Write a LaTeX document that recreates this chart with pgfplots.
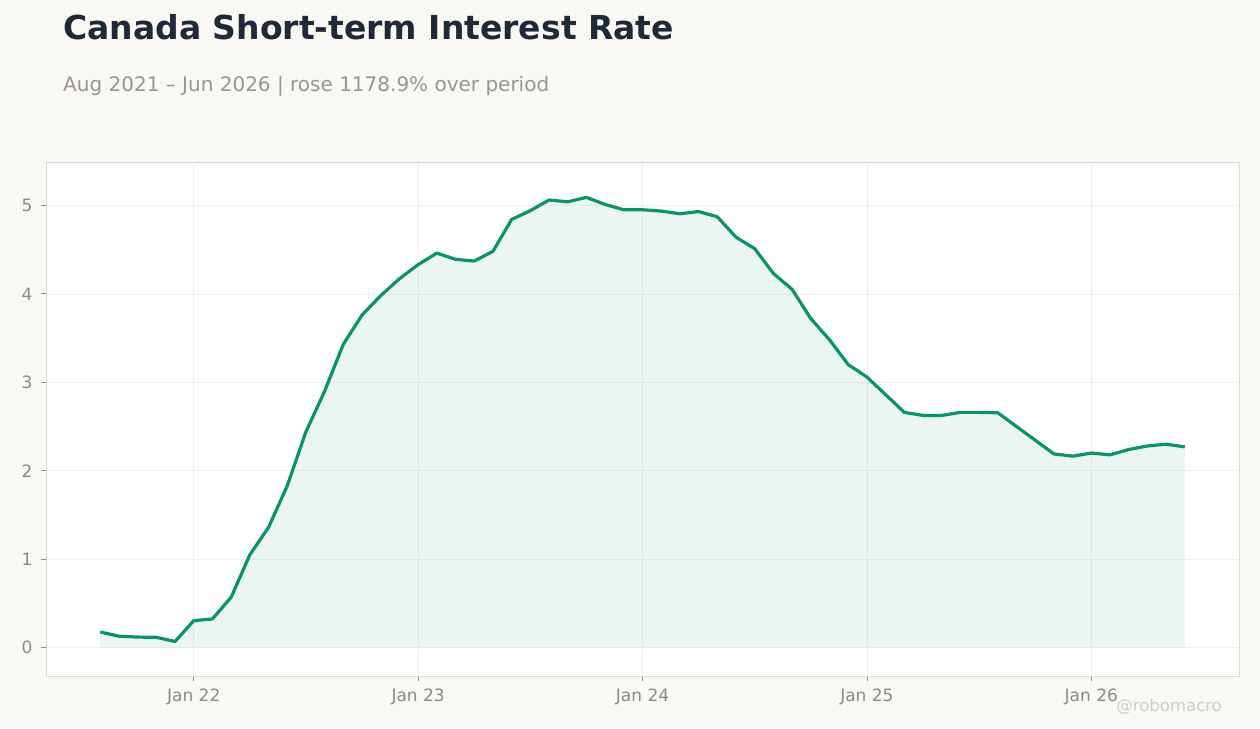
\documentclass[border=0pt]{standalone}
\usepackage{pgfplots}
\pgfplotsset{compat=1.18}
\usepackage{fontspec}
\setmainfont{DejaVu Sans}

\definecolor{pagebg}{HTML}{F9F8F5}
\definecolor{titlecol}{HTML}{1F2937}
\definecolor{subcol}{HTML}{999690}
\definecolor{tickcol}{HTML}{8A8A86}
\definecolor{framecol}{HTML}{DDD9D2}
\definecolor{gridcol}{HTML}{EEEEEE}
\definecolor{linecol}{HTML}{0A9464}
\definecolor{markcol}{HTML}{CCCCCC}

% monthly values, x = months since Aug 2021
\pgfplotstableread{
x y
0 0.177
1 0.13
2 0.12
3 0.117
4 0.07
5 0.305
6 0.325
7 0.57
8 1.05
9 1.36
10 1.83
11 2.44
12 2.90
13 3.43
14 3.76
15 3.98
16 4.17
17 4.33
18 4.46
19 4.39
20 4.37
21 4.48
22 4.84
23 4.94
24 5.06
25 5.04
26 5.09
27 5.01
28 4.95
29 4.95
30 4.935
31 4.905
32 4.93
33 4.87
34 4.64
35 4.51
36 4.23
37 4.05
38 3.72
39 3.48
40 3.20
41 3.06
42 2.86
43 2.66
44 2.625
45 2.625
46 2.66
47 2.66
48 2.655
49 2.50
50 2.345
51 2.19
52 2.165
53 2.20
54 2.18
55 2.24
56 2.28
57 2.30
58 2.27
}\rates

\begin{document}
\begin{tikzpicture}[x=1pt,y=1pt]
\fill[pagebg] (0,0) rectangle (1260,728);
\node[anchor=base west, text=titlecol, font=\fontsize{33}{39}\selectfont\bfseries, inner sep=0pt] at (63,688) {Canada Short-term Interest Rate};
\node[anchor=base west, text=subcol, font=\fontsize{20}{24}\selectfont, inner sep=0pt] at (63,636) {Aug 2021 – Jun 2026 | rose 1178.9\% over period};
\begin{axis}[
    at={(46pt,52pt)}, anchor=south west,
    scale only axis,
    width=1193pt, height=514pt,
    xmin=-2.9, xmax=60.9,
    ymin=-0.32, ymax=5.49,
    axis background/.style={fill=white},
    axis line style={framecol, line width=0.8pt},
    xtick={5,17,29,41,53},
    xticklabels={Jan 22, Jan 23, Jan 24, Jan 25, Jan 26},
    ytick={0,1,2,3,4,5},
    tick align=outside,
    major tick length=5pt,
    tick style={tickcol, line width=0.8pt},
    xtick pos=bottom, ytick pos=left,
    grid=major,
    major grid style={gridcol, line width=0.6pt},
    tick label style={text=tickcol, font=\fontsize{17}{20}\selectfont},
    /pgf/number format/assume math mode=true,
    xticklabel style={yshift=-4pt},
    yticklabel style={xshift=-5pt},
]
\addplot[draw=none, fill=linecol, fill opacity=0.08] table[x=x, y=y] {\rates} \closedcycle;
\addplot[linecol, line width=3.2pt, line join=round] table[x=x, y=y] {\rates};
\end{axis}
\node[anchor=base east, text=markcol, font=\fontsize{16.5}{19}\selectfont, inner sep=0pt] at (1222,17) {@robomacro};
\end{tikzpicture}
\end{document}
